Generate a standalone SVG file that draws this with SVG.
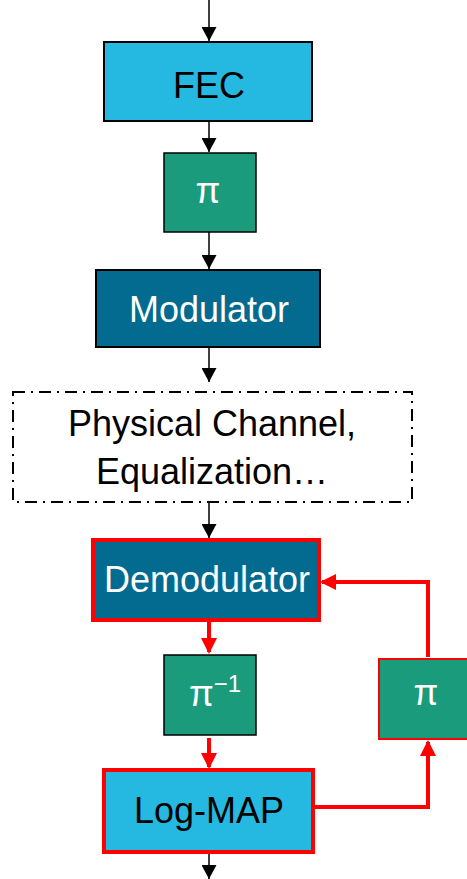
<svg xmlns="http://www.w3.org/2000/svg" width="467" height="879" viewBox="0 0 467 879">
<defs>
<marker id="ar" markerWidth="16" markerHeight="16" refX="14" refY="8" orient="auto" markerUnits="userSpaceOnUse" viewBox="0 0 16 16"><path d="M0,0 L16,8 L0,16 Z" fill="#f00"/></marker>
<marker id="ak" markerWidth="14" markerHeight="15" refX="14" refY="7.5" orient="auto" markerUnits="userSpaceOnUse" viewBox="0 0 14 15"><path d="M0,0 L14,7.5 L0,15 Z" fill="#000"/></marker>
</defs>
<style>
text{font-family:"Liberation Sans",Arial,sans-serif;text-anchor:middle}
.lbl{font-size:36px}
.pi{font-size:36px;fill:#fff}
.blk{stroke:#000;stroke-width:1.5;fill:none}
.red{stroke:#f00;stroke-width:4;fill:none}
</style>
<rect width="467" height="879" fill="#fff"/>
<g id="connectors">
<line class="blk" x1="209" y1="0" x2="209" y2="41" marker-end="url(#ak)"/>
<line class="blk" x1="209" y1="121" x2="209" y2="152" marker-end="url(#ak)"/>
<line class="blk" x1="209" y1="232" x2="209" y2="269" marker-end="url(#ak)"/>
<line class="blk" x1="209" y1="347" x2="209" y2="382" marker-end="url(#ak)"/>
<line class="blk" x1="209" y1="502" x2="209" y2="538" marker-end="url(#ak)"/>
<line class="red" x1="209" y1="622" x2="209" y2="652" marker-end="url(#ar)"/>
<line class="red" x1="209" y1="738" x2="209" y2="767" marker-end="url(#ar)"/>
<line class="blk" x1="209" y1="854" x2="209" y2="879" marker-end="url(#ak)"/>
<polyline class="red" points="315,807 428,807 428,742" marker-end="url(#ar)"/>
<polyline class="red" points="428,657 428,582 322,582" marker-end="url(#ar)"/>
</g>
<g id="fec">
<rect x="104" y="42" width="208" height="79" fill="#25B9E1" stroke="#000" stroke-width="2"/>
<text class="lbl" x="209" y="98">FEC</text>
</g>
<g id="pi1">
<rect x="164" y="153" width="92" height="79" fill="#1A9B7B" stroke="#000" stroke-width="1.5"/>
<text class="pi" x="208" y="203">π</text>
</g>
<g id="modulator">
<rect x="96" y="270" width="224" height="77" fill="#026B8F" stroke="#000" stroke-width="2"/>
<text class="lbl" x="209" y="322" fill="#fff">Modulator</text>
</g>
<g id="channel">
<rect x="13" y="392" width="399" height="110" fill="none" stroke="#000" stroke-width="2" stroke-dasharray="12,6,2,6"/>
<text class="lbl" x="212" y="436">Physical Channel,</text>
<text class="lbl" x="212" y="484">Equalization…</text>
</g>
<g id="demodulator">
<rect x="93" y="540" width="226" height="80" fill="#026B8F" stroke="#f00" stroke-width="4"/>
<text class="lbl" x="207" y="592" fill="#fff">Demodulator</text>
</g>
<g id="deinterleaver">
<rect x="164" y="655" width="92" height="80" fill="#1A9B7B" stroke="#000" stroke-width="1.5"/>
<text class="pi" x="215" y="706">π<tspan font-size="24" dy="-14">−1</tspan></text>
</g>
<g id="logmap">
<rect x="104" y="770" width="209" height="82" fill="#25B9E1" stroke="#f00" stroke-width="4"/>
<text class="lbl" x="209" y="823">Log-MAP</text>
</g>
<g id="pi2">
<rect x="379" y="659" width="92" height="80" fill="#1A9B7B" stroke="#f00" stroke-width="2"/>
<text class="pi" x="426" y="705">π</text>
</g>
</svg>
